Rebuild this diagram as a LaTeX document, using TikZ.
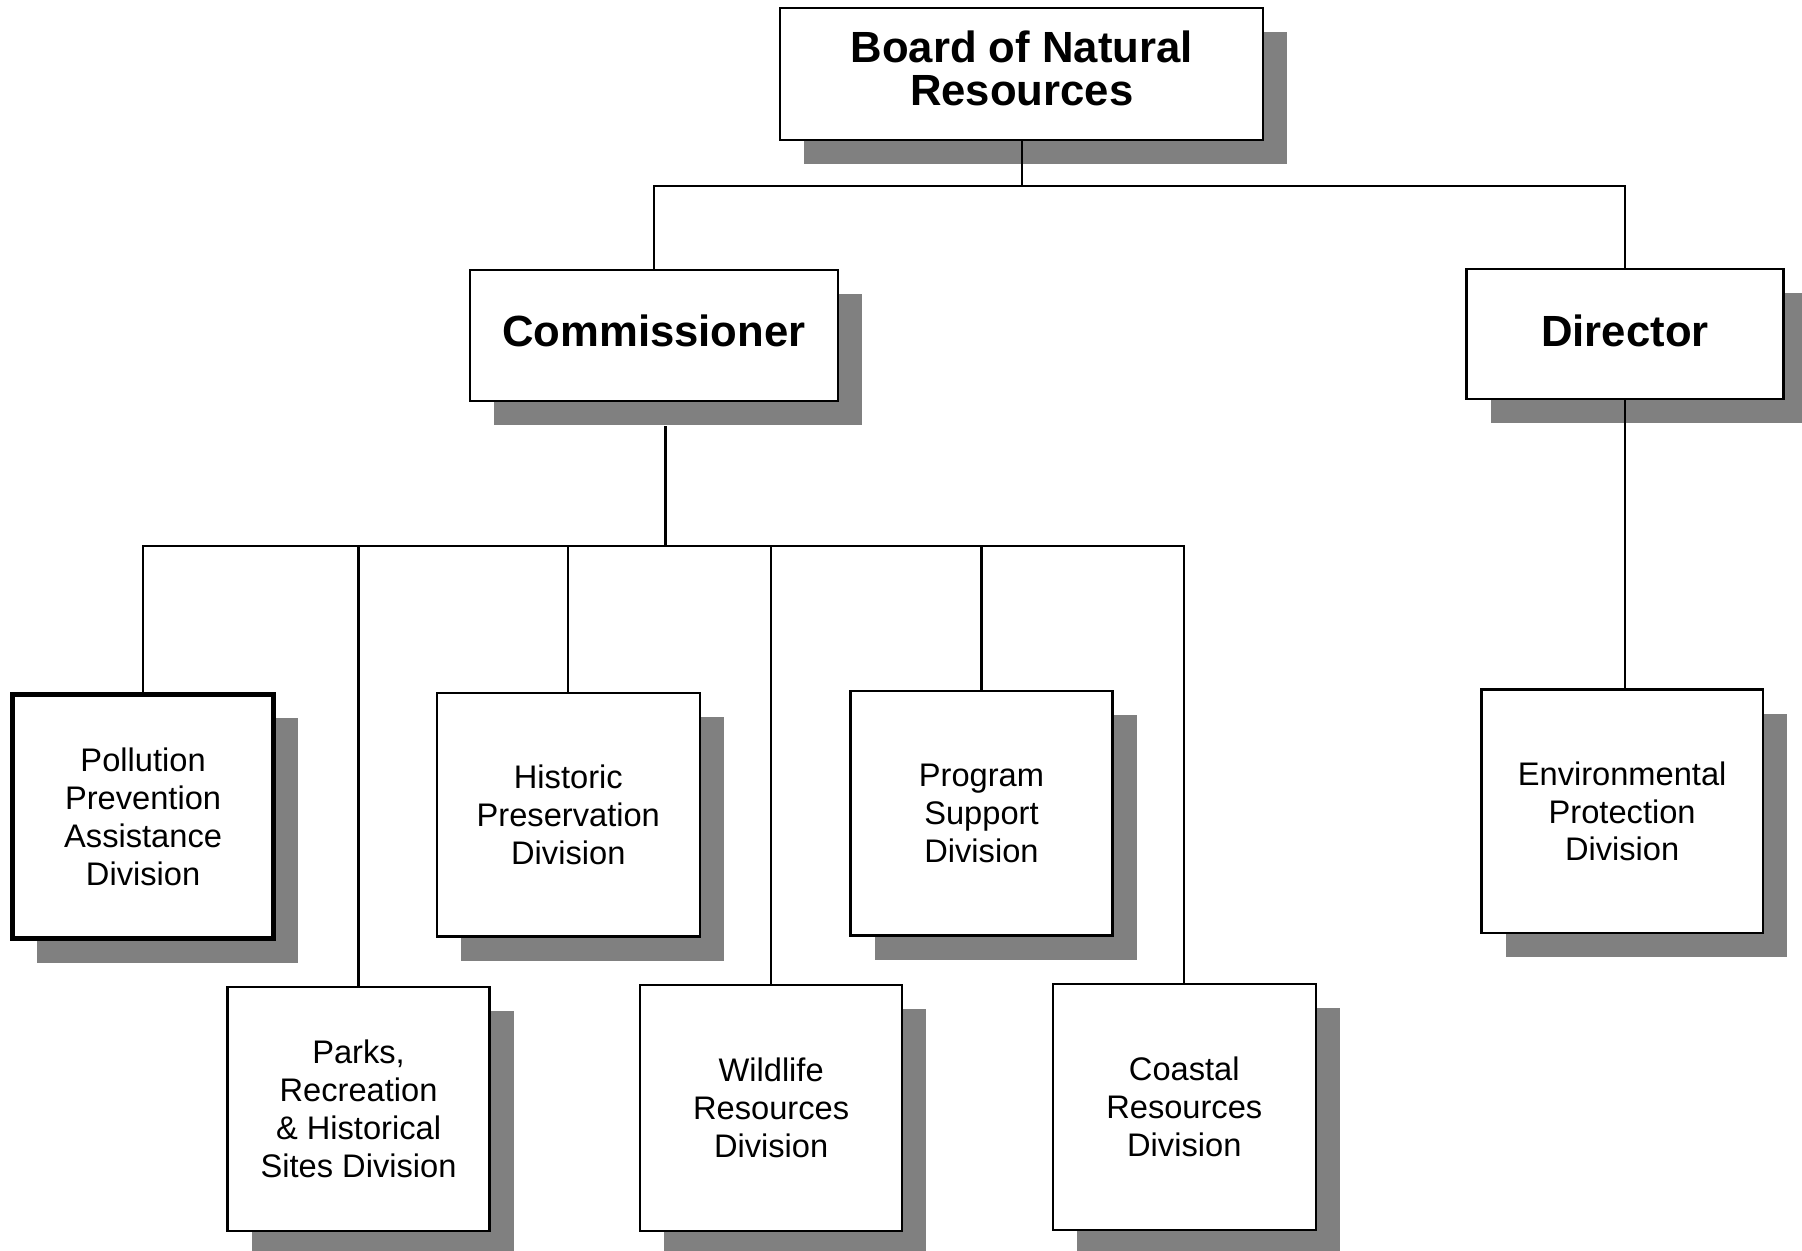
\documentclass[tikz,border=0pt]{standalone}
\usepackage{fontspec}
\setmainfont{Liberation Sans}
\usetikzlibrary{shadows}
\begin{document}
\begin{tikzpicture}[x=0.5pt,y=-0.5pt,
  shad/.style={drop shadow={shadow xshift=10.5pt,shadow yshift=-10.5pt,fill=black!50,opacity=1,draw=none}},
  box/.style={draw,line width=1pt,fill=white,shad,align=center,inner sep=0pt},
  topbox/.style={box},
  toptext/.style={align=center,inner sep=0pt,font=\fontsize{19}{18.5}\selectfont\bfseries},
  divbox/.style={box,font=\fontsize{14.2}{16.5}\selectfont},
  conn/.style={line width=1pt}]
\useasboundingbox (0,0) rectangle (1568,1088);
\clip (0,0) rectangle (1568,1088);
\coordinate (top) at (0,162);
\coordinate (bus) at (0,475);
% top level
\node[topbox,minimum width=210pt,minimum height=57.5pt] (board) at (889,64.5) {};
\node[toptext] (boardtext) at ([yshift=2.5pt]board.center) {Board of Natural\\Resources};
\node[topbox,minimum width=160pt,minimum height=57pt] (comm) at (569,292) {};
\node[toptext] (commtext) at ([yshift=2pt]comm.center) {Commissioner};
\node[topbox,minimum width=138pt,minimum height=56.5pt] (dir) at (1414,290.5) {};
\node[toptext] (dirtext) at ([yshift=1.5pt]dir.center) {Director};
% divisions
\node[divbox,line width=2.2pt,minimum width=113.5pt,minimum height=106.5pt] (pol) at (124.5,710.5) {Pollution\\Prevention\\Assistance\\Division};
\node[divbox,minimum width=114.5pt,minimum height=106pt] (his) at (494.5,709) {Historic\\Preservation\\Division};
\node[divbox,minimum width=114pt,minimum height=106.5pt] (pro) at (854,707.5) {Program\\Support\\Division};
\node[divbox,minimum width=122.5pt,minimum height=106pt] (env) at (1411.5,706) {Environmental\\Protection\\Division};
\node[divbox,minimum width=114pt,minimum height=106pt] (par) at (312,965) {Parks,\\Recreation\\\&~Historical\\Sites Division};
\node[divbox,minimum width=114pt,minimum height=107pt] (wil) at (671,964) {Wildlife\\Resources\\Division};
\node[divbox,minimum width=114.5pt,minimum height=107pt] (coa) at (1030.5,963) {Coastal\\Resources\\Division};
% connectors
\draw[conn] (board.south) -- (board.south |- top);
\draw[conn] (comm.north) -- (comm.north |- top) -- (dir.north |- top) -- (dir.north);
\coordinate (cd) at ([xshift=5pt,yshift=-10.5pt]comm.south);
\draw[conn] (cd) -- (cd |- bus);
\draw[conn] (pol.north) -- (pol.north |- bus) -- (coa.north |- bus) -- (coa.north);
\foreach \n in {par,his,wil,pro} \draw[conn] (\n.north) -- (\n.north |- bus);
\draw[conn] (dir.south) -- (dir.south |- env.north);
\end{tikzpicture}
\end{document}
